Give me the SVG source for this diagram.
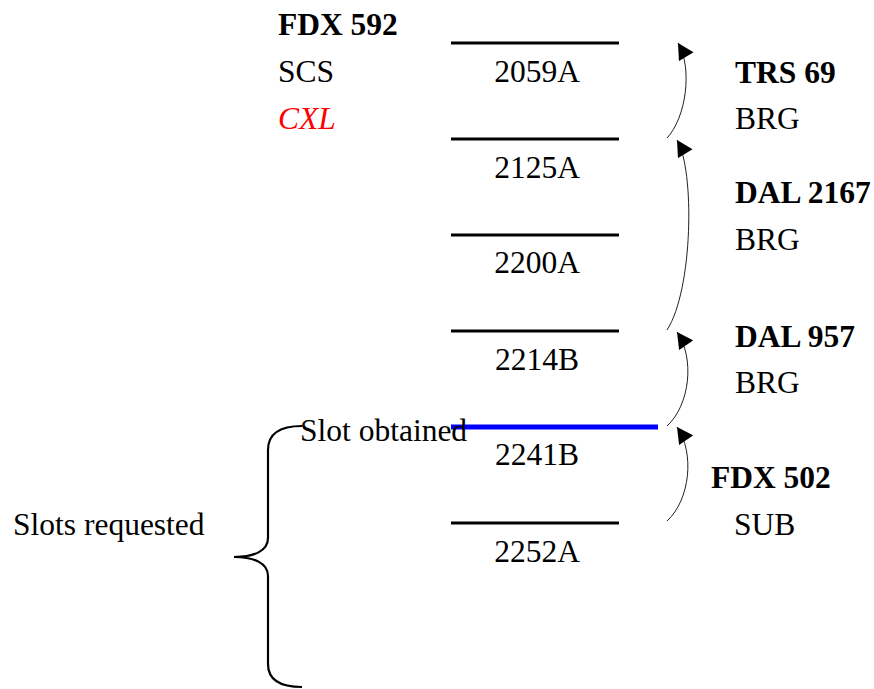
<svg xmlns="http://www.w3.org/2000/svg" width="874" height="689" viewBox="0 0 874 689">
<style>
  text { font-family: "Liberation Serif", "Times New Roman", serif; font-size: 31.5px; fill: #000; }
  .b { font-weight: bold; }
  .cxl { font-style: italic; fill: #ff0000; }
  .mid { text-anchor: middle; }
  .slot { stroke: #000; stroke-width: 3; }
  .obt { stroke: #0000ff; stroke-width: 5; }
  .arc { fill: none; stroke: #222; stroke-width: 1; marker-end: url(#ah); }
  .brace { fill: none; stroke: #000; stroke-width: 2.2; }
</style>
<defs>
  <marker id="ah" markerUnits="userSpaceOnUse" markerWidth="17" markerHeight="17" viewBox="0 0 16 17" refX="16" refY="8.5" orient="auto">
    <path d="M0,0 L16,8.5 L0,17 z" fill="#000"/>
  </marker>
</defs>
<rect width="874" height="689" fill="#fff"/>

<g id="slots">
  <line class="slot" x1="451" y1="43" x2="619" y2="43"/>
  <line class="slot" x1="451" y1="139" x2="619" y2="139"/>
  <line class="slot" x1="451" y1="235" x2="619" y2="235"/>
  <line class="slot" x1="451" y1="331" x2="619" y2="331"/>
  <line class="obt" x1="451" y1="427" x2="658" y2="427"/>
  <line class="slot" x1="451" y1="523" x2="619" y2="523"/>
  <text class="mid" x="537" y="82">2059A</text>
  <text class="mid" x="537" y="178">2125A</text>
  <text class="mid" x="537" y="273">2200A</text>
  <text class="mid" x="537" y="370">2214B</text>
  <text class="mid" x="537" y="465">2241B</text>
  <text class="mid" x="537" y="562">2252A</text>
</g>

<g id="fdx592">
  <text class="b" x="278" y="35">FDX 592</text>
  <text x="278" y="82">SCS</text>
  <text class="cxl" x="278" y="129">CXL</text>
</g>

<g id="trs69">
  <text class="b" x="735" y="83">TRS 69</text>
  <text x="735" y="129">BRG</text>
</g>

<g id="dal2167">
  <text class="b" x="735" y="203">DAL 2167</text>
  <text x="735" y="250">BRG</text>
</g>

<g id="dal957">
  <text class="b" x="735" y="347">DAL 957</text>
  <text x="735" y="393">BRG</text>
</g>

<g id="fdx502">
  <text class="b" x="711" y="488">FDX 502</text>
  <text x="734" y="535">SUB</text>
</g>

<g id="labels">
  <text x="300" y="441">Slot obtained</text>
  <text x="13" y="535">Slots requested</text>
</g>

<g id="brace">
  <path class="brace" d="M302,426 C280,426 268,433 268,450 L268,538 C268,551 254,557 234,557 C254,557 268,563 268,576 L268,664 C268,680 280,687 302,687"/>
</g>

<g id="connectors">
  <path class="arc" d="M667,138 C686,118 693,68 678,43"/>
  <path class="arc" d="M667,330 C693,290 695,170 677,140"/>
  <path class="arc" d="M667,426 C690,405 695,358 677,332"/>
  <path class="arc" d="M667,521 C690,500 695,453 677,427"/>
</g>
</svg>
